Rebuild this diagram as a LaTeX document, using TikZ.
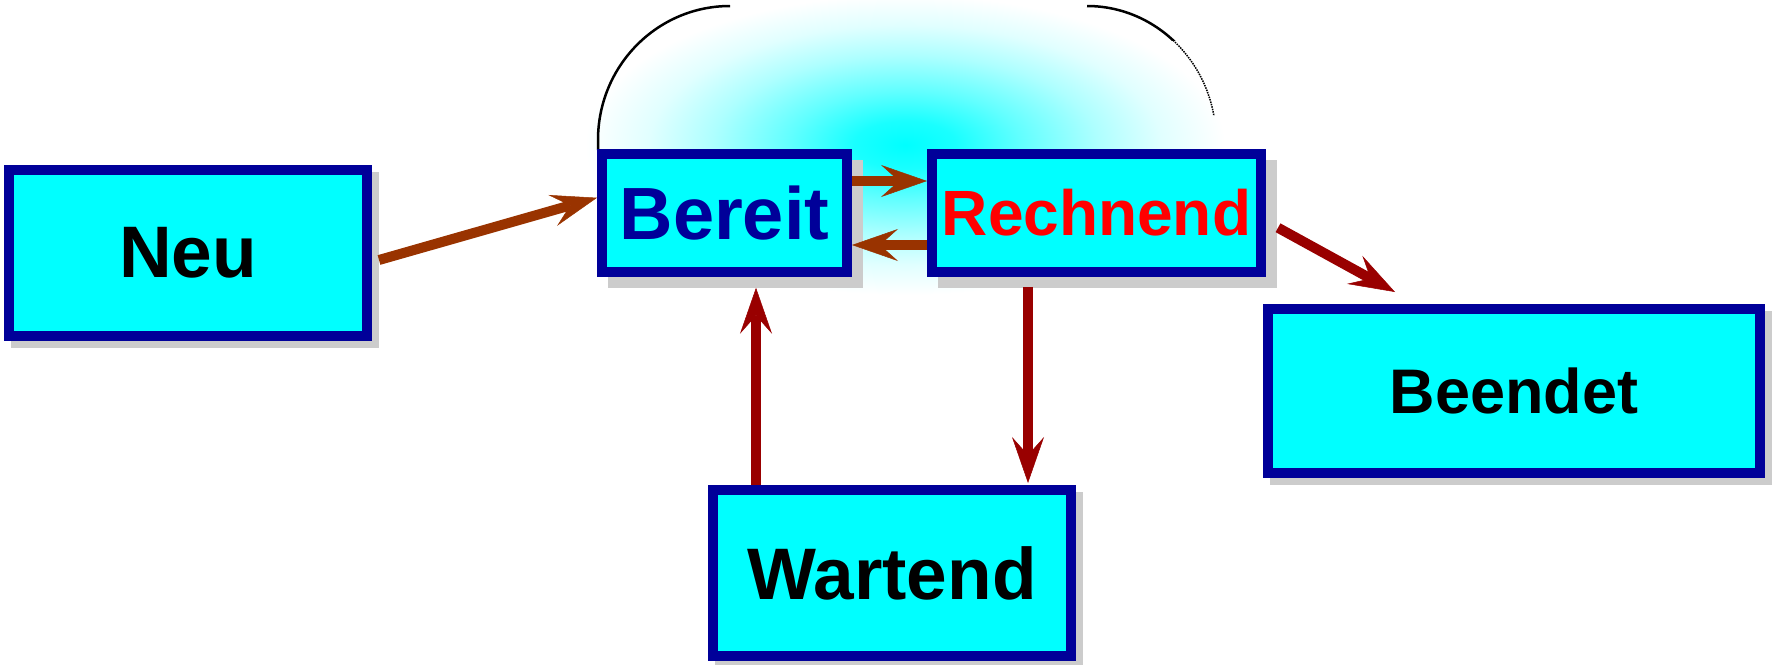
\documentclass[tikz,border=0pt]{standalone}
\usepackage{fontspec}
\setmainfont{Liberation Sans}
\usetikzlibrary{arrows.meta,calc,backgrounds}
\definecolor{boxblue}{HTML}{000099}
\definecolor{boxfill}{HTML}{00FFFF}
\definecolor{shadowgray}{HTML}{CCCCCC}
\definecolor{arrbrown}{HTML}{993300}
\definecolor{arrred}{HTML}{990000}
\definecolor{txtred}{HTML}{FF0000}
\pgfdeclareradialshading{glowshade}{\pgfpoint{0bp}{0bp}}{color(0bp)=(boxfill); color(4bp)=(boxfill!90!white); color(9bp)=(boxfill!62!white); color(15bp)=(boxfill!32!white); color(20bp)=(boxfill!12!white); color(25bp)=(white); color(50bp)=(white)}
\begin{document}
\begin{tikzpicture}[x=1pt,y=-1pt,
  statebox/.style={draw=boxblue, fill=boxfill, line width=10pt, rectangle, inner sep=0pt},
  arr/.style={line width=10pt, -{Stealth[length=46pt,width=32pt,inset=18pt,line width=0.5pt]}},
  shadowbox/.style={fill=shadowgray},
  outline/.style={draw=black, line width=2.5pt}
]
\useasboundingbox (0,0) rectangle (1777,664);

\node[statebox, minimum width=358pt, minimum height=166pt, font=\bfseries\fontsize{73pt}{80pt}\selectfont] (neu) at (188,253) {Neu};
\node[statebox, minimum width=245pt, minimum height=118pt, font=\bfseries\fontsize{74pt}{80pt}\selectfont, text=boxblue] (bereit) at (724.5,212.75) {Bereit};
\node[statebox, minimum width=329pt, minimum height=118pt, font=\bfseries\fontsize{64pt}{70pt}\selectfont, text=txtred] (rechnend) at (1096.5,212.75) {Rechnend};
\node[statebox, minimum width=492pt, minimum height=164pt, font=\bfseries\fontsize{63pt}{70pt}\selectfont] (beendet) at (1514,391) {Beendet};
\node[statebox, minimum width=358pt, minimum height=166pt, font=\bfseries\fontsize{73pt}{80pt}\selectfont] (wartend) at (892,573) {Wartend};

\begin{scope}[on background layer]
  \shade[shading=glowshade] (905,145) ellipse [x radius=320, y radius=150];
  \draw[outline] (598,150) -- (598,140) .. controls (598,66) and (657,6) .. (730,6);
  \begin{scope}
    \clip (1080,0) rectangle (1230,40);
    \draw[outline] (1087,6) .. controls (1158,6) and (1216,66) .. (1216,140);
  \end{scope}
  \begin{scope}
    \clip (1080,40) rectangle (1230,115);
    \draw[draw=black, line width=1.5pt, densely dotted] (1087,6) .. controls (1158,6) and (1216,66) .. (1216,140);
  \end{scope}
  \foreach \n/\d in {neu/7, bereit/11, rechnend/11, beendet/7, wartend/7}
    \fill[shadowbox] ($(\n.north west)+(\d,\d)$) rectangle ($(\n.south east)+(\d,\d)$);
\end{scope}

\draw[arr, arrbrown] ($(neu.east)+(7,7)$) -- ($(bereit.west)+(0,-15)$);
\draw[arr, arrbrown] ($(bereit.east)+(0,-31.75)$) -- ($(rechnend.west)+(0,-31.75)$);
\draw[arr, arrbrown] ($(rechnend.west)+(0,32.25)$) -- ($(bereit.east)+(0,32.25)$);
\draw[arr, arrred] ($(rechnend.east)+(12,15)$) -- ($(beendet.north west)+(132,-12)$);
\draw[arr, arrred] ($(wartend.north west)+(48,0)$) -- ($(bereit.south west)+(159,11)$);
\draw[arr, arrred] ($(rechnend.south west)+(101,10)$) -- ($(wartend.north west)+(320,-2)$);
\end{tikzpicture}
\end{document}
